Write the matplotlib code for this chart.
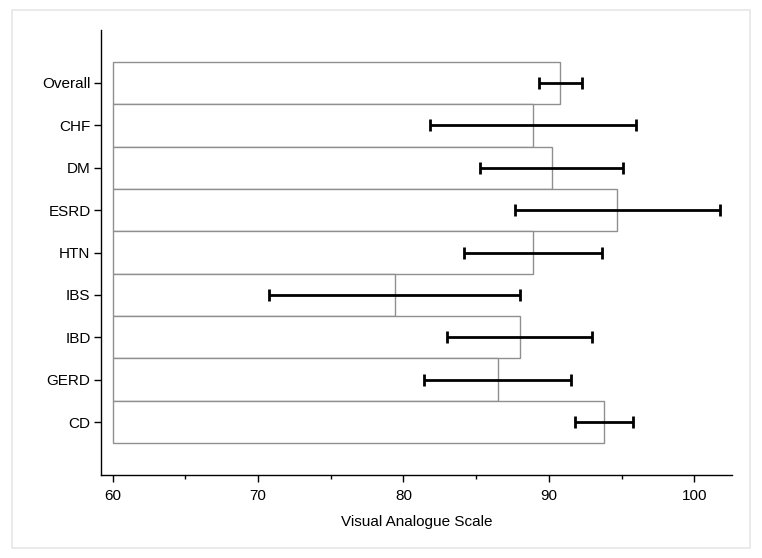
import matplotlib
matplotlib.use("Agg")
import matplotlib.pyplot as plt
from matplotlib.patches import Rectangle
from matplotlib.ticker import MultipleLocator

plt.rcParams['font.family'] = ['Liberation Sans', 'DejaVu Sans']

categories = ["Overall", "CHF", "DM", "ESRD", "HTN", "IBS", "IBD", "GERD", "CD"]
means = [90.8, 88.9, 90.2, 94.7, 88.9, 79.4, 88.0, 86.5, 93.8]
errors = [1.5, 7.1, 4.9, 7.05, 4.75, 8.65, 5.0, 5.05, 2.0]
base = 60

fig = plt.figure(figsize=(7.62, 5.58), dpi=100)
fig.patches.append(Rectangle((12/762, 10/558), 738/762, 538/558, transform=fig.transFigure,
                             fill=False, edgecolor='#e6e6e6', linewidth=1.2))
ax = fig.add_axes([101/762, 1-475/558, (732-101)/762, (475-30)/558])

n = len(categories)
ypos = list(range(n - 1, -1, -1))
widths = [m - base for m in means]
ax.barh(ypos, widths, left=base, height=1.0, color='white', edgecolor='#8f8f8f', linewidth=1.0, zorder=2)
ax.errorbar(means, ypos, xerr=errors, fmt='none', ecolor='black', elinewidth=2.0,
            capsize=4, capthick=2.0, zorder=3)

ax.set_xlim(59.2, 102.6)
ax.set_ylim(-1.25, 9.25)
ax.set_yticks(ypos)
ax.set_yticklabels(categories, fontsize=11)
ax.xaxis.set_major_locator(MultipleLocator(10))
ax.xaxis.set_minor_locator(MultipleLocator(5))
ax.tick_params(axis='x', which='major', length=5, width=1, labelsize=11, pad=5)
ax.tick_params(axis='x', which='minor', length=3, width=1)
ax.tick_params(axis='y', length=5, width=1, pad=2.5)
ax.set_xlabel("Visual Analogue Scale", fontsize=11, labelpad=9)
for s in ['top', 'right']:
    ax.spines[s].set_visible(False)
for s in ['left', 'bottom']:
    ax.spines[s].set_linewidth(1.0)

fig.savefig("out.png", dpi=100)
